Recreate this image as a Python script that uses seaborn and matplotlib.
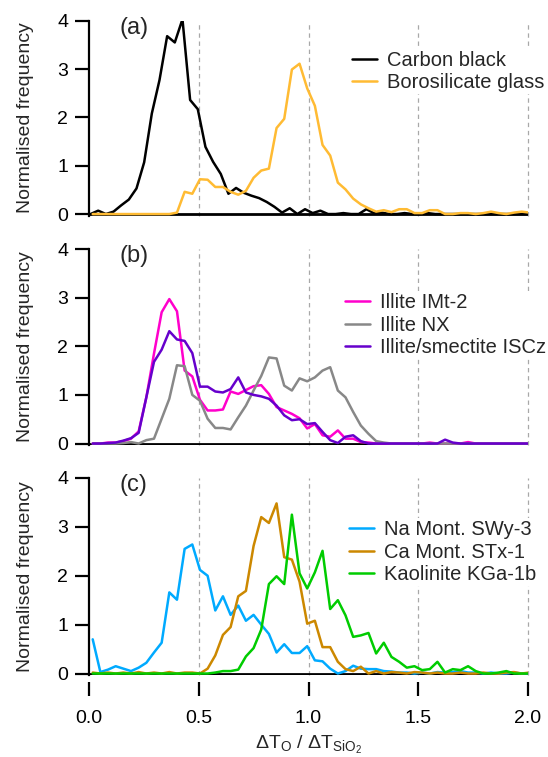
import numpy as np
import pandas as pd
import matplotlib
matplotlib.use("Agg")
import matplotlib.pyplot as plt
import seaborn as sns

# ---------------- data ----------------
bin_step = 0.0349          # bin width of the normalised histograms
x0_main = 0.0169           # first bin centre (most samples)
x0_carbon = 0.007          # first bin centre (carbon black)

carbon_black = [0.0, 0.07, 0.0, 0.05, 0.18, 0.3, 0.53, 1.07, 2.08, 2.77,
                3.68, 3.55, 4.03, 2.36, 2.17, 1.39, 1.08, 0.83, 0.42, 0.54,
                0.44, 0.38, 0.33, 0.25, 0.15, 0.03, 0.12, 0.0, 0.1, 0.02,
                0.07, 0.0, 0.0, 0.02, 0.0, 0.0, 0.1, 0.02, 0.03, 0.0,
                0.0, 0.02, 0.0, 0.0, 0.02, 0.0, 0.0, 0.0, 0.0, 0.0,
                0.0, 0.0, 0.0, 0.0, 0.0, 0.0, 0.0, 0.0]
boro_glass = [0.0, 0.0, 0.0, 0.0, 0.0, 0.0, 0.0, 0.0, 0.0, 0.0,
              0.0, 0.03, 0.46, 0.42, 0.72, 0.71, 0.56, 0.56, 0.46, 0.4,
              0.48, 0.75, 0.9, 0.94, 1.78, 1.97, 2.99, 3.11, 2.6, 2.24,
              1.43, 1.21, 0.65, 0.51, 0.32, 0.2, 0.12, 0.05, 0.08, 0.04,
              0.1, 0.1, 0.02, 0.02, 0.08, 0.08, 0.0, 0.0, 0.02, 0.02,
              0.0, 0.02, 0.05, 0.02, 0.0, 0.03, 0.05, 0.03]

illite_imt2 = [0.0, 0.0, 0.02, 0.02, 0.05, 0.1, 0.25, 0.95, 1.85, 2.7,
               2.97, 2.72, 1.5, 1.38, 0.9, 0.68, 0.68, 0.7, 1.07, 1.02,
               1.1, 1.18, 1.2, 1.02, 0.75, 0.68, 0.61, 0.52, 0.31, 0.4,
               0.17, 0.14, 0.27, 0.1, 0.1, 0.03, 0.02, 0.0, 0.0, 0.0,
               0.0, 0.0, 0.0, 0.0, 0.02, 0.0, 0.0, 0.0, 0.0, 0.03,
               0.0, 0.0, 0.0, 0.0, 0.0, 0.0, 0.0, 0.0]
illite_nx = [0.0, 0.0, 0.0, 0.0, 0.01, 0.03, 0.0, 0.07, 0.1, 0.51,
             0.92, 1.61, 1.59, 1.0, 0.88, 0.51, 0.32, 0.32, 0.29, 0.54,
             0.78, 1.09, 1.39, 1.77, 1.75, 1.19, 1.09, 1.34, 1.28, 1.36,
             1.5, 1.57, 1.09, 0.95, 0.65, 0.37, 0.2, 0.05, 0.02, 0.0,
             0.0, 0.0, 0.0, 0.0, 0.0, 0.0, 0.0, 0.0, 0.0, 0.0,
             0.0, 0.0, 0.0, 0.0, 0.0, 0.0, 0.0, 0.0]
illite_iscz = [0.0, 0.0, 0.01, 0.02, 0.06, 0.11, 0.22, 0.95, 1.68, 1.93,
               2.31, 2.14, 2.11, 1.86, 1.17, 1.17, 1.07, 1.05, 1.12, 1.36,
               1.05, 1.0, 0.97, 0.92, 0.78, 0.58, 0.48, 0.5, 0.4, 0.42,
               0.24, 0.07, 0.01, 0.14, 0.17, 0.05, 0.0, 0.0, 0.0, 0.0,
               0.0, 0.0, 0.0, 0.0, 0.0, 0.0, 0.08, 0.02, 0.0, 0.0,
               0.0, 0.0, 0.0, 0.0, 0.0, 0.0, 0.0, 0.0]

na_mont = [0.7, 0.03, 0.08, 0.15, 0.1, 0.05, 0.12, 0.22, 0.43, 0.63,
           1.66, 1.51, 2.55, 2.64, 2.12, 2.0, 1.29, 1.58, 1.2, 1.39,
           1.08, 1.2, 1.0, 0.81, 0.43, 0.6, 0.42, 0.42, 0.56, 0.27,
           0.25, 0.1, 0.0, 0.05, 0.16, 0.1, 0.09, 0.09, 0.05, 0.04,
           0.02, 0.02, 0.0, 0.02, 0.0, 0.03, 0.02, 0.03, 0.05, 0.02,
           0.02, 0.0, 0.02, 0.0, 0.0, 0.02, 0.0, 0.0]
ca_mont = [0.02, 0.0, 0.02, 0.0, 0.02, 0.0, 0.03, 0.0, 0.02, 0.0,
           0.03, 0.0, 0.02, 0.02, 0.0, 0.1, 0.37, 0.79, 0.95, 1.58,
           1.69, 2.61, 3.2, 3.08, 3.48, 2.38, 2.33, 1.88, 1.02, 1.08,
           0.54, 0.54, 0.24, 0.09, 0.05, 0.14, 0.0, 0.05, 0.0, 0.03,
           0.02, 0.0, 0.03, 0.02, 0.0, 0.02, 0.0, 0.0, 0.02, 0.0,
           0.0, 0.02, 0.0, 0.0, 0.02, 0.03, 0.0, 0.02]
kaolinite = [0.0, 0.0, 0.0, 0.0, 0.0, 0.0, 0.0, 0.0, 0.0, 0.0,
             0.0, 0.0, 0.0, 0.0, 0.0, 0.0, 0.02, 0.05, 0.05, 0.08,
             0.35, 0.52, 0.9, 1.83, 1.99, 1.83, 3.25, 2.05, 1.74, 2.07,
             2.51, 1.32, 1.5, 1.19, 0.75, 0.78, 0.83, 0.41, 0.63, 0.34,
             0.24, 0.12, 0.15, 0.07, 0.09, 0.24, 0.02, 0.09, 0.07, 0.15,
             0.05, 0.0, 0.0, 0.02, 0.05, 0.0, 0.0, 0.0]

panels = [
    ("(a)", [("Carbon black", carbon_black, x0_carbon, "#000000"),
             ("Borosilicate glass", boro_glass, x0_main, "#FFBB33")]),
    ("(b)", [("Illite IMt-2", illite_imt2, x0_main, "#FF00CC"),
             ("Illite NX", illite_nx, x0_main, "#888888"),
             ("Illite/smectite ISCz", illite_iscz, x0_main, "#6600CC")]),
    ("(c)", [("Na Mont. SWy-3", na_mont, x0_main, "#00AAFF"),
             ("Ca Mont. STx-1", ca_mont, x0_main, "#CC8800"),
             ("Kaolinite KGa-1b", kaolinite, x0_main, "#00CC00")]),
]
legend_anchor = [(0.594, 0.855), (0.579, 0.785), (0.587, 0.795)]

# ---------------- style ----------------
sns.set_theme(style="white")
plt.rcParams["font.family"] = ["Liberation Sans", "DejaVu Sans"]
plt.rcParams["mathtext.fontset"] = "custom"
plt.rcParams["mathtext.rm"] = "Liberation Sans"
plt.rcParams["mathtext.it"] = "Liberation Sans:italic"
plt.rcParams["mathtext.default"] = "regular"

fig = plt.figure(figsize=(5.48, 7.57), dpi=100)
W, H = 548.0, 757.0
left_px, right_px = 89.0, 528.0
tops = [20.7, 249.0, 478.0]
bottoms = [215.5, 445.0, 675.0]

for i, (tag, series) in enumerate(panels):
    ax = fig.add_axes([left_px / W, 1 - bottoms[i] / H,
                       (right_px - left_px) / W, (bottoms[i] - tops[i]) / H])
    frames = []
    for name, vals, x0, col in series:
        xs = x0 + bin_step * np.arange(len(vals))
        frames.append(pd.DataFrame({"x": xs, "freq": vals, "sample": name}))
    df = pd.concat(frames, ignore_index=True)
    pal = {name: col for name, _, _, col in series}
    sns.lineplot(data=df, x="x", y="freq", hue="sample", palette=pal,
                 hue_order=[s[0] for s in series], estimator=None, sort=False,
                 lw=1.8, ax=ax, legend=False, zorder=3)
    data_lines = list(ax.lines)

    for v in [0.5, 1.0, 1.5, 2.0]:
        ax.axvline(v, color="#A8A8A8", lw=0.9, ls=(0, (3.5, 3)), zorder=1,
                   clip_on=False)
    ax.axhline(0, color="black", lw=2.0, zorder=2)

    ax.set_xlim(0, 2.0)
    ax.set_ylim(-0.03, 4.0)
    ax.set_yticks([0, 1, 2, 3, 4])
    ax.set_yticklabels(["0", "1", "2", "3", "4"])
    ax.set_ylabel("Normalised frequency", fontsize=14, labelpad=17)
    ax.set_xlabel("")
    for s in ["top", "right"]:
        ax.spines[s].set_visible(False)
    ax.spines["left"].set_linewidth(1.6)
    ax.spines["left"].set_color("black")
    ax.spines["bottom"].set_visible(False)
    ax.tick_params(axis="y", direction="out", length=10, width=1.6,
                   colors="black", labelsize=14, pad=5, left=True)
    if i < 2:
        ax.tick_params(axis="x", bottom=False, labelbottom=False)
    else:
        ax.spines["bottom"].set_position(("outward", 5))
        ax.set_xticks([0, 0.5, 1.0, 1.5, 2.0])
        ax.set_xticklabels(["0.0", "0.5", "1.0", "1.5", "2.0"])
        ax.tick_params(axis="x", direction="out", length=10, width=1.6,
                       colors="black", labelsize=14, pad=10, bottom=True)
    ax.text(0.14, 4.08, tag, fontsize=17, ha="left", va="top")
    leg = ax.legend(data_lines, [s[0] for s in series], loc="upper left",
                    bbox_to_anchor=legend_anchor[i], frameon=True,
                    fancybox=False, facecolor="white", edgecolor="none",
                    framealpha=1.0, fontsize=14.5,
                    handlelength=1.25, handletextpad=0.5, labelspacing=0.17,
                    borderpad=0.1, borderaxespad=0)
    leg.set_zorder(5)

fig.text((left_px + right_px) / 2 / W, 1 - 749 / H,
         r"$\Delta$T$_\mathrm{O}$ / $\Delta$T$_{\mathrm{SiO}_2}$",
         fontsize=14, ha="center", va="baseline")

fig.savefig("out.png", dpi=100)
